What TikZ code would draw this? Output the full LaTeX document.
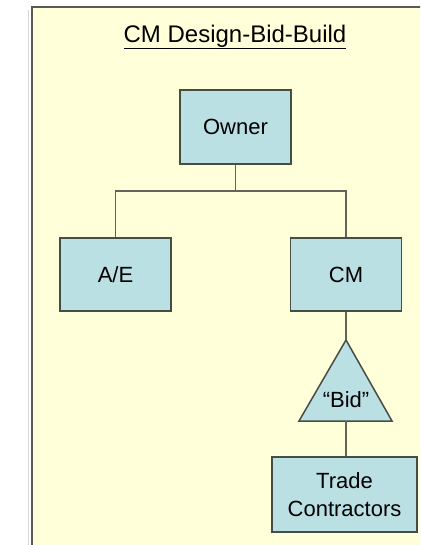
\documentclass[tikz,border=0pt]{standalone}
\usepackage{fontspec}
\setmainfont{Liberation Sans}
\definecolor{paper}{RGB}{255,255,217}
\definecolor{boxfill}{RGB}{187,224,227}
\definecolor{boxedge}{RGB}{70,76,70}
\definecolor{wire}{RGB}{100,100,88}
\definecolor{frameedge}{RGB}{90,90,85}
\tikzset{
  orgbox/.style={draw=boxedge, line width=1.5pt, fill=boxfill, rectangle, inner sep=0pt,
    align=center, font=\fontsize{22}{28}\selectfont},
  link/.style={draw=wire, line width=1.6pt},
}
\begin{document}
\begin{tikzpicture}[x=1pt,y=-1pt]
\useasboundingbox (0,0) rectangle (420,545);
\clip (0,0) rectangle (420,545);
% frame
\draw[color={rgb,255:red,215;green,215;blue,215}, line width=1pt] (28.5,10) -- (28.5,560);
\draw[fill=paper, draw=frameedge, line width=2pt] (32,7) rectangle (440,570);
% title
\node (title) at (235,37) {\fontsize{24}{28}\selectfont\underline{CM Design-Bid-Build}};
% boxes
\node[orgbox, minimum width=111pt, minimum height=74pt] (owner) at (235.5,127) {Owner};
\node[orgbox, minimum width=111pt, minimum height=73pt] (ae) at (115.5,274.5) {A/E};
\node[orgbox, minimum width=111pt, minimum height=73pt] (cm) at (346,274.5) {CM};
\node[orgbox, minimum width=145pt, minimum height=75pt] (trade) at (344.5,494.5) {Trade\\Contractors};
% bid triangle
\coordinate (bidtop) at (346,340);
\coordinate (bidbase) at (346,421);
\draw[draw=boxedge, line width=1.5pt, fill=boxfill, line join=miter] (bidtop) -- (392,421) -- (299,421) -- cycle;
\node[font=\fontsize{22}{28}\selectfont] (bid) at (346,400) {“Bid”};
% connectors
\coordinate (junction) at (235.5,191);
\draw[link] (owner.south) -- (junction);
\draw[link] (ae.north) |- (junction) -| (cm.north);
\draw[link] (cm.south) -- (bidtop);
\draw[link] (bidbase) -- (bidbase |- trade.north);
\end{tikzpicture}
\end{document}
